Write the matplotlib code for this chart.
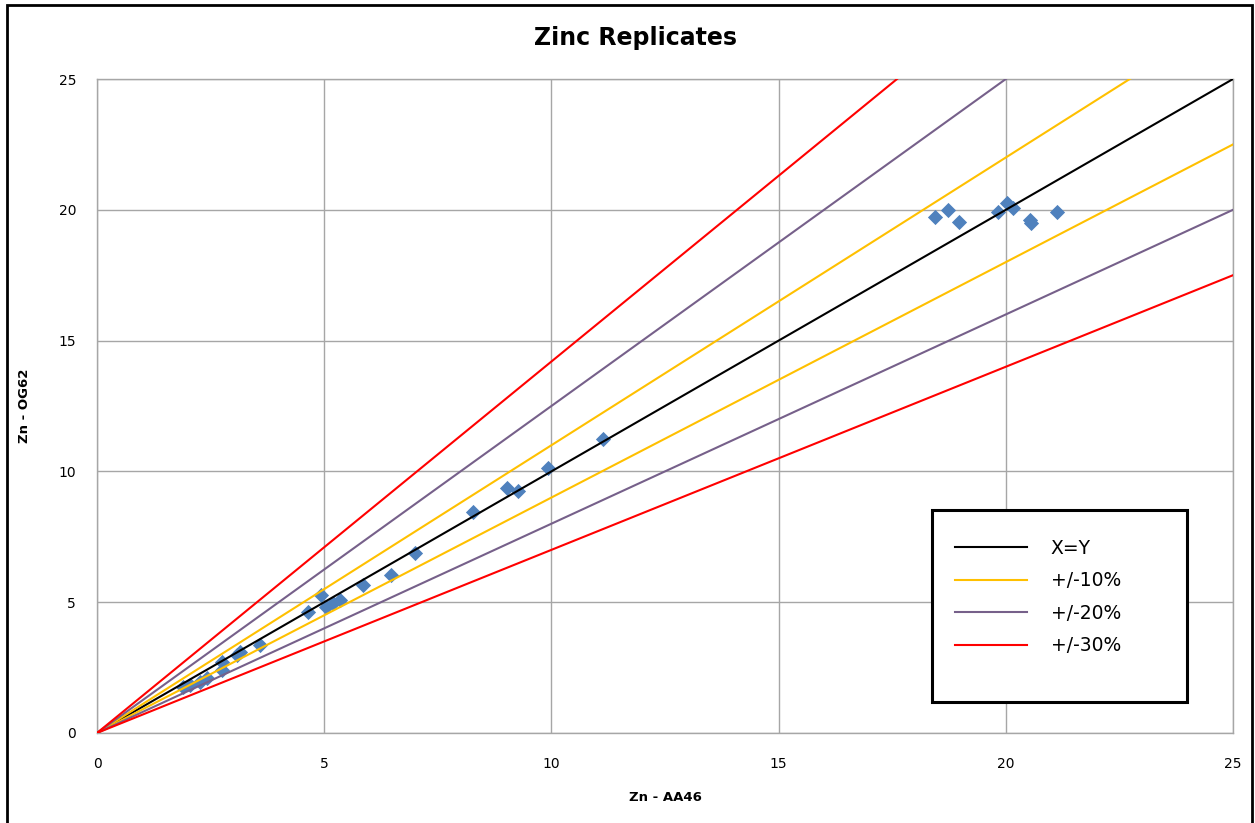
import matplotlib.pyplot as plt
import numpy as np
from matplotlib.patches import Rectangle

# replicate results
aa46 = [1.90, 2.05, 2.27, 2.41, 2.74, 2.74, 3.07, 3.15, 3.59, 4.65, 4.94, 5.05,
        5.20, 5.35, 5.86, 6.48, 7.00, 8.28, 9.02, 9.27, 9.93, 11.14,
        18.44, 18.73, 18.98, 19.83, 20.03, 20.15, 20.53, 20.55, 21.13]
og62 = [1.75, 1.83, 1.96, 2.09, 2.41, 2.73, 2.98, 3.11, 3.36, 4.64, 5.28, 4.83,
        4.96, 5.08, 5.66, 6.04, 6.87, 8.46, 9.35, 9.26, 10.12, 11.23,
        19.74, 19.99, 19.55, 19.93, 20.25, 20.06, 19.62, 19.50, 19.93]

band_labels = ["+/-10%", "+/-20%", "+/-30%"]
band_upper = [1.10, 1.25, 1.42]
band_lower = [0.90, 0.80, 0.70]
band_colors = ["#FFC000", "#76608A", "#FF0000"]

ticks = [0, 5, 10, 15, 20, 25]

fig = plt.figure(figsize=(12.55, 8.23), dpi=100)
ax = fig.add_axes([0.0773, 0.1094, 0.9052, 0.7946])

ax.scatter(aa46, og62, marker="D", s=60, color="#4F81BD", zorder=2, linewidths=0)

xs = np.array([0, 25])
ax.plot(xs, xs, color="black", lw=1.5, label="X=Y", zorder=3)
for lab, up, lo, c in zip(band_labels, band_upper, band_lower, band_colors):
    ax.plot(xs, xs * up, color=c, lw=1.5, label=lab, zorder=3)
    ax.plot(xs, xs * lo, color=c, lw=1.5, zorder=3)

ax.set_xlim(0, 25)
ax.set_ylim(0, 25)
ax.set_xticks(ticks)
ax.set_yticks(ticks)
ax.grid(True, color="#A6A6A6", lw=1.0, zorder=0)
ax.set_axisbelow(True)
ax.tick_params(axis="x", length=0, labelsize=10, pad=17)
ax.tick_params(axis="y", length=0, labelsize=10, pad=15)
for s in ax.spines.values():
    s.set_color("#A6A6A6")
    s.set_linewidth(1.0)

fig.text(0.506, 0.954, "Zinc Replicates", fontsize=17, fontweight="bold",
         ha="center", va="center")
ax.set_xlabel("Zn - AA46", fontsize=9.5, fontweight="bold", labelpad=15)
ax.set_ylabel("Zn - OG62", fontsize=9.5, fontweight="bold", labelpad=20)

# legend box drawn by hand so its size matches
ax.add_patch(Rectangle((0.735, 0.0474), 0.2245, 0.2936, transform=ax.transAxes,
                       facecolor="white", edgecolor="black", lw=2.2, zorder=4))
leg = ax.legend(loc="upper left", bbox_to_anchor=(0.7553, 0.2970), fontsize=13.5,
                frameon=False, handlelength=3.85, handletextpad=1.25,
                labelspacing=0.72, borderpad=0, borderaxespad=0)
leg.set_zorder(5)

fig.patches.append(Rectangle((7 / 1255, -0.01), 1 - 10 / 1255, 1.01 - 5 / 823,
                             transform=fig.transFigure, fill=False,
                             edgecolor="black", lw=2))

fig.savefig("out.png", dpi=100)
